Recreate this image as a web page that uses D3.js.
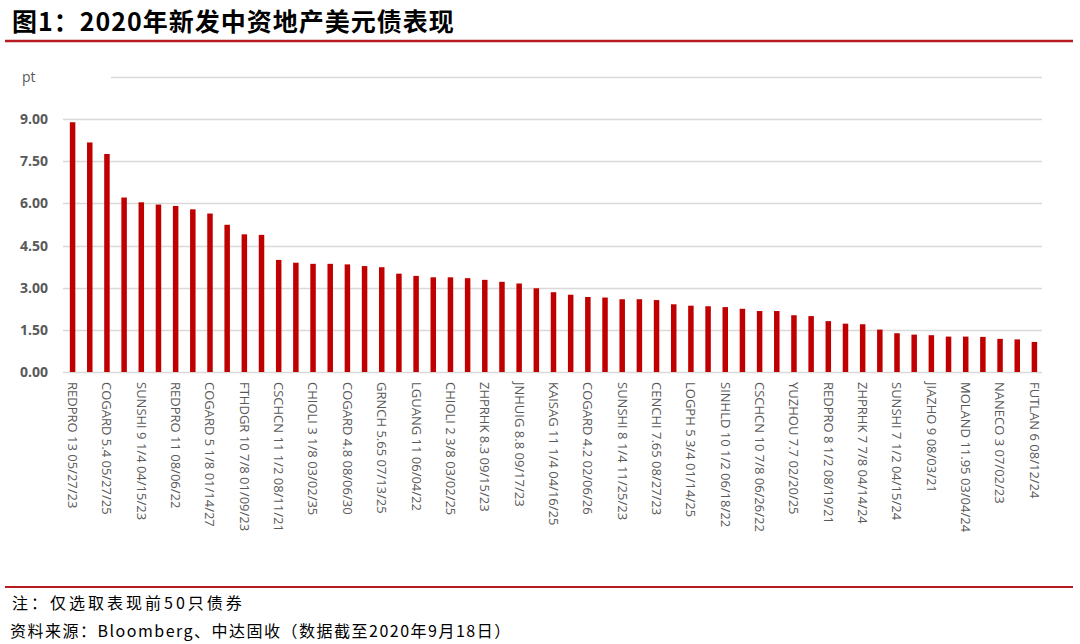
<!DOCTYPE html>
<html lang="zh">
<head>
  <meta charset="UTF-8">
  <title>2020年新发中资地产美元债表现</title>
  <script src="https://d3js.org/d3.v7.min.js"></script>
  <style>
    body { margin: 0; background: #fff; }
    svg { display: block; }
    .title { font-family: "Noto Sans CJK SC", sans-serif; font-weight: bold; font-size: 25px; fill: #000; letter-spacing: 1px; }
    .foot { font-family: "Noto Sans CJK SC", sans-serif; font-size: 16px; fill: #000; }
    .ytick text { font-family: "Open Sans", sans-serif; font-weight: bold; font-size: 14px; fill: #595959; }
    .xtick text { font-family: "Open Sans", sans-serif; font-size: 13px; fill: #595959; }
    .unit { font-family: "Open Sans", sans-serif; font-size: 14px; fill: #595959; }
  </style>
</head>
<body>
<svg width="1080" height="644"></svg>

<script>
  // 表现（pt），按从高到低排列，共57只
  const values = [
    8.89, 8.17, 7.76, 6.21, 6.04, 5.96, 5.91, 5.79, 5.64, 5.24,
    4.90, 4.88, 3.99, 3.89, 3.85, 3.85, 3.83, 3.77, 3.73, 3.50,
    3.42, 3.37, 3.37, 3.34, 3.28, 3.21, 3.15, 2.98, 2.84, 2.75,
    2.67, 2.65, 2.59, 2.59, 2.56, 2.41, 2.36, 2.34, 2.31, 2.25,
    2.17, 2.17, 2.02, 1.99, 1.81, 1.72, 1.70, 1.51, 1.38, 1.33,
    1.31, 1.26, 1.26, 1.25, 1.18, 1.16, 1.07
  ];

  // 每隔一只债券显示一个标签
  const labels = [
    "REDPRO 13 05/27/23", "COGARD 5.4 05/27/25", "SUNSHI 9 1/4 04/15/23",
    "REDPRO 11 08/06/22", "COGARD 5 1/8 01/14/27", "FTHDGR 10 7/8 01/09/23",
    "CSCHCN 11 1/2 08/11/21", "CHIOLI 3 1/8 03/02/35", "COGARD 4.8 08/06/30",
    "GRNCH 5.65 07/13/25", "LGUANG 11 06/04/22", "CHIOLI 2 3/8 03/02/25",
    "ZHPRHK 8.3 09/15/23", "JNHUIG 8.8 09/17/23", "KAISAG 11 1/4 04/16/25",
    "COGARD 4.2 02/06/26", "SUNSHI 8 1/4 11/25/23", "CENCHI 7.65 08/27/23",
    "LOGPH 5 3/4 01/14/25", "SINHLD 10 1/2 06/18/22", "CSCHCN 10 7/8 06/26/22",
    "YUZHOU 7.7 02/20/25", "REDPRO 8 1/2 08/19/21", "ZHPRHK 7 7/8 04/14/24",
    "SUNSHI 7 1/2 04/15/24", "JIAZHO 9 08/03/21", "MOLAND 11.95 03/04/24",
    "NANECO 3 07/02/23", "FUTLAN 6 08/12/24"
  ];

  const yTicks = [0, 1.5, 3, 4.5, 6, 7.5, 9];
  const gridLevels = [0, 1.5, 3, 4.5, 6, 7.5, 9, 10.5];

  const svg = d3.select("svg");
  const W = 1080;

  // 标题
  svg.append("text").attr("class", "title")
    .attr("x", 12).attr("y", 31)
    .text("图1：2020年新发中资地产美元债表现");

  svg.append("line")
    .attr("x1", 5).attr("x2", W - 7).attr("y1", 41).attr("y2", 41)
    .attr("stroke", "#b81c22").attr("stroke-width", 2.5);

  // 比例尺
  const x = d3.scaleBand()
    .domain(d3.range(values.length))
    .range([64, 1043])
    .paddingInner(0.68)
    .paddingOuter(0.34);

  const y = d3.scaleLinear()
    .domain([0, 10.5])
    .range([372, 77]);

  // 网格线
  svg.append("g")
    .selectAll("line")
    .data(gridLevels)
    .join("line")
      .attr("x1", 63).attr("x2", 1042)
      .attr("y1", d => Math.round(y(d)) + 0.5)
      .attr("y2", d => Math.round(y(d)) + 0.5)
      .attr("stroke", "#d9d9d9").attr("stroke-width", 1.3);

  // 单位标签（遮住顶部网格线的一段）
  svg.append("rect").attr("x", 0).attr("y", 68).attr("width", 111).attr("height", 20).attr("fill", "#fff");
  svg.append("text").attr("class", "unit")
    .attr("x", 22).attr("y", y(10.5)).attr("dy", "0.35em")
    .text("pt");

  // Y轴
  svg.append("g")
    .attr("class", "ytick")
    .attr("transform", "translate(48,0)")
    .call(d3.axisLeft(y).tickValues(yTicks).tickFormat(d3.format(".2f")).tickSize(0).tickPadding(0))
    .call(g => g.select(".domain").remove());

  // 柱子
  svg.append("g")
    .selectAll("rect")
    .data(values)
    .join("rect")
      .attr("x", (d, i) => x(i))
      .attr("y", d => y(d))
      .attr("width", x.bandwidth())
      .attr("height", d => y(0) - y(d))
      .attr("fill", "#c00000");

  // X轴标签
  svg.append("g")
    .attr("class", "xtick")
    .attr("transform", `translate(0,${y(0)})`)
    .call(d3.axisBottom(x)
      .tickValues(d3.range(0, values.length, 2))
      .tickFormat(i => labels[i / 2])
      .tickSize(0))
    .call(g => g.select(".domain").remove())
    .selectAll("text")
      .attr("transform", "rotate(90)")
      .attr("x", 10)
      .attr("y", 0)
      .attr("dy", "0.35em")
      .style("text-anchor", "start");

  // 脚注
  svg.append("line")
    .attr("x1", 5).attr("x2", W - 7).attr("y1", 587).attr("y2", 587)
    .attr("stroke", "#b81c22").attr("stroke-width", 2);

  svg.append("text").attr("class", "foot")
    .attr("x", 12).attr("y", 609).style("letter-spacing", "3px")
    .text("注：仅选取表现前50只债券");

  svg.append("text").attr("class", "foot")
    .attr("x", 10).attr("y", 637).style("letter-spacing", "1.5px")
    .text("资料来源：Bloomberg、中达固收（数据截至2020年9月18日）");
</script>
</body>
</html>
